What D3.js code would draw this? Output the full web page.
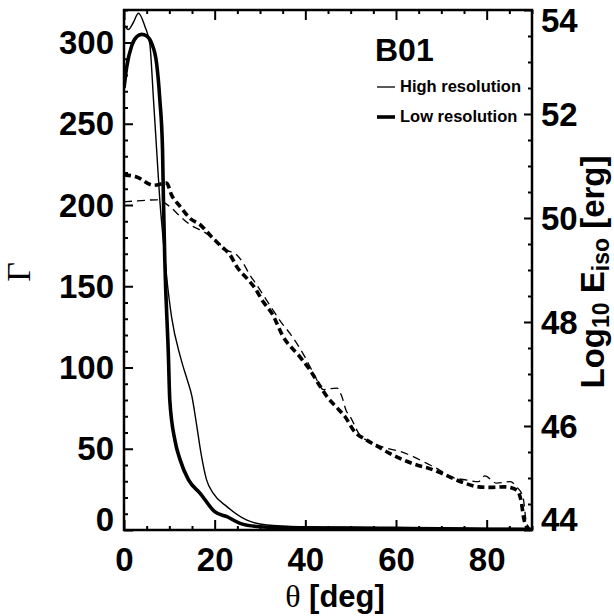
<!DOCTYPE html>
<html>
<head>
<meta charset="utf-8">
<script src="https://cdn.jsdelivr.net/npm/d3@7"></script>
<style>
  html, body { margin: 0; padding: 0; background: #fff; }
  svg { display: block; }
  .tick text { font-family: "Liberation Sans", Arial, sans-serif; font-weight: bold; }
</style>
</head>
<body>
<div id="chart"></div>
<script>
// ---------------------------------------------------------------------------
// Data
// ---------------------------------------------------------------------------

// Lorentz factor, high resolution (thin solid)
const thetaHi = [0, 0.95, 2, 3.2, 4.6, 5.7, 6.5, 7.2, 7.9, 8.6, 9.4, 10.5, 12.4, 13, 14, 15, 16, 17, 18.2, 19.7, 22.7, 27, 31.5, 38.8, 50, 60, 70, 80, 90];
const gammaHi = [311, 308, 312, 318, 310, 299, 265, 234, 203, 180, 156, 131, 107, 101, 92, 82, 65, 47, 31, 22.6, 14.4, 6.2, 3.1, 2, 1.6, 1.4, 1.2, 1.0, 0.8];

// Lorentz factor, low resolution (thick solid)
const thetaLo = [0, 0.6, 1.7, 2.8, 3.9, 5, 6.1, 7.2, 7.9, 8.5, 8.7, 9.0, 9.8, 10.1, 11.25, 12.4, 14.2, 16.8, 20, 22.7, 25.6, 30, 35, 40, 50, 60, 70, 80, 88, 90];
const gammaLo = [272, 285, 298, 303.5, 305, 304, 299.5, 287, 265, 234, 203, 166, 107, 80, 55, 43, 31, 22.6, 11.3, 8.2, 4.1, 2, 1.5, 1.3, 1.2, 1.0, 0.8, 0.5, 0.4, 0.3];

// log10 E_iso, high resolution (thin dashed)
const thetaEHi = [0, 3, 7.2, 10.1, 12.4, 14.6, 17.5, 19.7, 22.7, 24.9, 26.3, 27.8, 29.3, 30.7, 32.7, 34.8, 36.6, 39.9, 42, 44, 45.5, 47, 48, 49, 49.9, 52, 55, 58, 60.9, 63.8, 66.8, 69.7, 71.9, 75.6, 78.2, 79.6, 82.2, 85.2, 86.6, 88, 88.8, 90];
const eisoHi = [50.31, 50.33, 50.35, 50.22, 50.03, 49.87, 49.74, 49.61, 49.38, 49.29, 49.13, 48.90, 48.71, 48.52, 48.25, 47.98, 47.78, 47.33, 46.98, 46.7, 46.72, 46.73, 46.58, 46.3, 46.18, 45.83, 45.67, 45.57, 45.51, 45.41, 45.28, 45.15, 45.03, 44.96, 44.93, 45.04, 44.9, 44.93, 44.83, 44.64, 44.13, 44.0];

// log10 E_iso, low resolution (thick dashed)
const thetaELo = [0, 2.8, 6.5, 9.4, 10.5, 12.4, 14.6, 16.8, 19.3, 21.5, 23.4, 24.9, 27.1, 28.9, 30.7, 32.6, 35.1, 38.8, 41, 43, 45, 47, 49, 50.6, 53.5, 56.1, 58.7, 61.6, 64.6, 67.1, 70.1, 72.6, 75.2, 78.2, 81.1, 84, 86.6, 87.7, 88.1, 88.8, 90];
const eisoLo = [50.83, 50.79, 50.63, 50.67, 50.44, 50.22, 49.99, 49.87, 49.64, 49.45, 49.29, 49.06, 48.84, 48.65, 48.39, 48.17, 47.72, 47.33, 47.08, 46.8, 46.54, 46.35, 46.15, 45.92, 45.73, 45.60, 45.47, 45.35, 45.25, 45.19, 45.09, 44.99, 44.9, 44.83, 44.82, 44.83, 44.77, 44.51, 44.26, 44.06, 43.9];

// axis ticks
const xMajor = [0, 20, 40, 60, 80];
const gammaMajor = [0, 50, 100, 150, 200, 250, 300];
const eisoMajor = [44, 46, 48, 50, 52, 54];

// ---------------------------------------------------------------------------
// Setup
// ---------------------------------------------------------------------------

const W = 614, H = 616;
const plotL = 124, plotR = 532, plotT = 10, plotB = 530;

const svg = d3.select('#chart').append('svg')
    .attr('width', W)
    .attr('height', H);

const x = d3.scaleLinear().domain([0, 90]).range([plotL, plotR]);
const yG = d3.scaleLinear().domain([0, 320]).range([plotB, plotT]);
const yE = d3.scaleLinear().domain([44, 54]).range([plotB, plotT]);

const xMinor = d3.range(0, 91, 5).filter(v => !xMajor.includes(v));
const gMinor = d3.range(0, 321, 10).filter(v => !gammaMajor.includes(v));
const eMinor = d3.range(44, 54.01, 0.5).filter(v => !eisoMajor.includes(v));

// clip for curves
svg.append('clipPath').attr('id', 'plotclip')
    .append('rect')
    .attr('x', plotL).attr('y', plotT)
    .attr('width', plotR - plotL).attr('height', plotB - plotT);

const plot = svg.append('g').attr('clip-path', 'url(#plotclip)');

// ---------------------------------------------------------------------------
// Curves
// ---------------------------------------------------------------------------

const lineG = d3.line()
    .x(d => x(d[0]))
    .y(d => yG(d[1]))
    .curve(d3.curveMonotoneX);

const lineE = d3.line()
    .x(d => x(d[0]))
    .y(d => yE(d[1]))
    .curve(d3.curveMonotoneX);

function addCurve(lineFn, xs, ys, width, dash) {
    plot.append('path')
        .datum(xs.map((v, i) => [v, ys[i]]))
        .attr('d', lineFn)
        .attr('fill', 'none')
        .attr('stroke', '#000')
        .attr('stroke-width', width)
        .attr('stroke-dasharray', dash || null)
        .attr('stroke-linejoin', 'round');
}

addCurve(lineE, thetaEHi, eisoHi, 1.3, '8,5');
addCurve(lineE, thetaELo, eisoLo, 3.6, '7,4');
addCurve(lineG, thetaHi, gammaHi, 1.4);
addCurve(lineG, thetaLo, gammaLo, 3.6);

// ---------------------------------------------------------------------------
// Axes
// ---------------------------------------------------------------------------

function styleAxis(g) {
    g.select('.domain').remove();
    g.selectAll('.tick line').attr('stroke', '#000').attr('stroke-width', 2);
    g.selectAll('.tick text').attr('font-size', 33).attr('fill', '#000');
}

// bottom
svg.append('g')
    .attr('transform', `translate(0,${plotB})`)
    .call(d3.axisBottom(x).tickValues(xMinor).tickSize(-4).tickFormat(''))
    .call(styleAxis);
svg.append('g')
    .attr('transform', `translate(0,${plotB})`)
    .call(d3.axisBottom(x).tickValues(xMajor).tickSize(-10).tickPadding(18).tickFormat(d3.format('d')))
    .call(styleAxis)
    .selectAll('.tick text').attr('dy', '0.71em');

// top
svg.append('g')
    .attr('transform', `translate(0,${plotT})`)
    .call(d3.axisTop(x).tickValues(xMinor).tickSize(-4).tickFormat(''))
    .call(styleAxis);
svg.append('g')
    .attr('transform', `translate(0,${plotT})`)
    .call(d3.axisTop(x).tickValues(xMajor).tickSize(-10).tickFormat(''))
    .call(styleAxis);

// left (Gamma)
svg.append('g')
    .attr('transform', `translate(${plotL},0)`)
    .call(d3.axisLeft(yG).tickValues(gMinor).tickSize(-4).tickFormat(''))
    .call(styleAxis);
const gAxisL = svg.append('g')
    .attr('transform', `translate(${plotL},0)`)
    .call(d3.axisLeft(yG).tickValues(gammaMajor).tickSize(-9).tickPadding(10).tickFormat(d3.format('d')))
    .call(styleAxis);
gAxisL.selectAll('.tick text')
    .attr('dy', d => d === 0 ? '0.02em' : '0.34em');

// right (Eiso)
svg.append('g')
    .attr('transform', `translate(${plotR},0)`)
    .call(d3.axisRight(yE).tickValues(eMinor).tickSize(-4).tickFormat(''))
    .call(styleAxis);
const gAxisR = svg.append('g')
    .attr('transform', `translate(${plotR},0)`)
    .call(d3.axisRight(yE).tickValues(eisoMajor).tickSize(-8).tickPadding(9).tickFormat(d3.format('d')))
    .call(styleAxis);
gAxisR.selectAll('.tick text')
    .attr('dy', d => d === 44 ? '0.02em' : (d === 54 ? '0.66em' : '0.34em'));

// frame
svg.append('rect')
    .attr('x', plotL).attr('y', plotT)
    .attr('width', plotR - plotL).attr('height', plotB - plotT)
    .attr('fill', 'none')
    .attr('stroke', '#000')
    .attr('stroke-width', 2.5);

// ---------------------------------------------------------------------------
// Titles
// ---------------------------------------------------------------------------

const xt = svg.append('text')
    .attr('x', 335).attr('y', 607)
    .attr('text-anchor', 'middle')
    .attr('font-size', 31);
xt.append('tspan')
    .attr('font-family', '"Liberation Serif", "Times New Roman", serif')
    .attr('font-size', 32)
    .text('θ');
xt.append('tspan')
    .attr('font-family', '"Liberation Sans", Arial, sans-serif')
    .attr('font-weight', 'bold')
    .text(' [deg]');

svg.append('text')
    .attr('transform', 'translate(30,272) rotate(-90)')
    .attr('text-anchor', 'middle')
    .attr('font-family', '"Liberation Serif", "Times New Roman", serif')
    .attr('font-size', 34)
    .text('Γ');

const yt = svg.append('text')
    .attr('transform', 'translate(604,272) rotate(-90)')
    .attr('text-anchor', 'middle')
    .attr('font-family', '"Liberation Sans", Arial, sans-serif')
    .attr('font-weight', 'bold')
    .attr('font-size', 33);
yt.append('tspan').text('Log');
yt.append('tspan').attr('font-size', 23).attr('dy', 5).text('10');
yt.append('tspan').attr('dy', -5).text(' E');
yt.append('tspan').attr('font-size', 23).attr('dy', 5).text('iso');
yt.append('tspan').attr('dy', -5).text(' [erg]');

// ---------------------------------------------------------------------------
// Legend
// ---------------------------------------------------------------------------

const legendFont = '"Liberation Sans", Arial, sans-serif';

svg.append('text')
    .attr('x', 375).attr('y', 61)
    .attr('font-family', legendFont)
    .attr('font-weight', 'bold')
    .attr('font-size', 32)
    .text('B01');

const legendItems = [
    { label: 'High resolution', width: 1.3, y: 87 },
    { label: 'Low resolution', width: 3.6, y: 117 },
];

legendItems.forEach(item => {
    svg.append('line')
        .attr('x1', 377).attr('x2', 395)
        .attr('y1', item.y).attr('y2', item.y)
        .attr('stroke', '#000')
        .attr('stroke-width', item.width);
    svg.append('text')
        .attr('x', 400).attr('y', item.y + 5)
        .attr('font-family', legendFont)
        .attr('font-weight', 'bold')
        .attr('font-size', 16.5)
        .text(item.label);
});
</script>
</body>
</html>
